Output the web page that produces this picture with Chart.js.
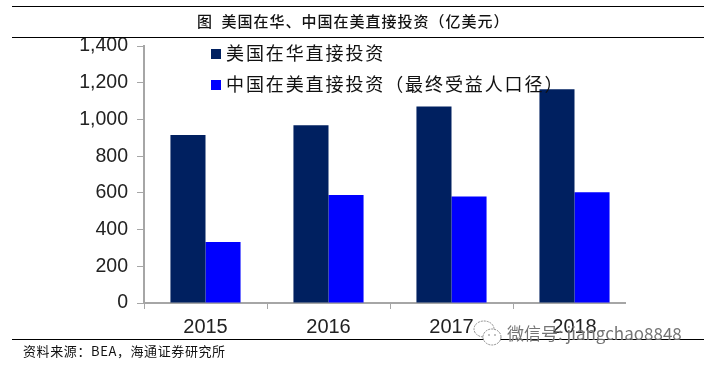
<!DOCTYPE html>
<html>
<head>
<meta charset="utf-8">
<script src="https://cdn.jsdelivr.net/npm/chart.js@4"></script>
<style>
  html, body { margin: 0; padding: 0; background: #fff; }
  #wrap { position: relative; width: 704px; height: 367px; overflow: hidden; font-family: "Noto Sans CJK SC", sans-serif; color: #111; }
  #chart { position: absolute; left: 0; top: 0; }
  .rule { position: absolute; left: 12px; width: 692px; height: 1px; background: #000; }
  #title { position: absolute; left: 197px; top: 11px; white-space: pre; font-size: 15px; line-height: 20px; letter-spacing: 1px; font-weight: 500; }
  #source { position: absolute; left: 23px; top: 343px; font-size: 13px; line-height: 16px; letter-spacing: 0.6px; }
  #legend { position: absolute; left: 211px; top: 37px; font-size: 18px; line-height: 31px; letter-spacing: 1.9px; }
  #legend .row { white-space: nowrap; height: 31px; }
  #legend .box { display: inline-block; width: 10px; height: 10px; margin-right: 5px; vertical-align: 1px; }
  #axis-end { position: absolute; left: 626px; top: 298px; width: 16px; height: 16px; background: #fff; }
  #mark { position: absolute; left: 507px; top: 322px; font-size: 17px; line-height: 22px; color: rgba(70,70,70,0.75); white-space: nowrap; text-shadow: 0 0 1px #fff; }
  #icon { position: absolute; left: 472px; top: 318px; }
</style>
</head>
<body>
<div id="wrap">
  <canvas id="chart" width="704" height="367"></canvas>
  <div id="axis-end"></div>
  <div class="rule" style="top:6px"></div>
  <div class="rule" style="top:37px"></div>
  <div class="rule" style="top:339px"></div>
  <div id="title"></div>
  <div id="legend"></div>
  <svg id="icon" width="34" height="32" fill="#fff" stroke="#8a8a8a" stroke-width="1" stroke-dasharray="2 1">
    <ellipse cx="12" cy="11" rx="10" ry="8"></ellipse>
    <ellipse cx="20" cy="19" rx="9" ry="8"></ellipse>
    <circle cx="17" cy="17" r="0.8" fill="#777" stroke="none"></circle>
    <circle cx="23" cy="17" r="0.8" fill="#777" stroke="none"></circle>
  </svg>
  <div id="mark"></div>
  <div id="source"></div>
</div>
<script>
// values
const years = ['2015', '2016', '2017', '2018'];
const usToChina = [915, 968, 1070, 1165];
const chinaToUs = [332, 588, 580, 603];
const seriesNames = ['美国在华直接投资', '中国在美直接投资（最终受益人口径）'];
const seriesColors = ['#002060', '#0000ff'];
const yTicks = [0, 200, 400, 600, 800, 1000, 1200, 1400];
const titleText = '图\u2002美国在华、中国在美直接投资（亿美元）';
const sourceText = '资料来源：BEA，海通证券研究所';
const watermark = '微信号: jiangchao8848';

document.getElementById('title').textContent = titleText;
document.getElementById('source').textContent = sourceText;
document.getElementById('mark').textContent = watermark;

// legend sits inside the plot, over the bars
const legend = document.getElementById('legend');
seriesNames.forEach((name, i) => {
  const row = document.createElement('div');
  row.className = 'row';
  const box = document.createElement('span');
  box.className = 'box';
  box.style.background = seriesColors[i];
  row.appendChild(box);
  row.appendChild(document.createTextNode(name));
  legend.appendChild(row);
});

new Chart(document.getElementById('chart'), {
  type: 'bar',
  data: {
    labels: years,
    datasets: [
      { label: seriesNames[0], data: usToChina, backgroundColor: seriesColors[0] },
      { label: seriesNames[1], data: chinaToUs, backgroundColor: seriesColors[1] }
    ]
  },
  options: {
    responsive: false,
    animation: false,
    categoryPercentage: 0.57,
    barPercentage: 1,
    layout: { padding: { top: 46, right: 68, bottom: 0, left: 0 } },
    plugins: { legend: { display: false }, title: { display: false }, tooltip: { enabled: false } },
    scales: {
      x: {
        afterFit: (scale) => { scale.height = 64; },
        grid: { drawOnChartArea: false, color: '#a6a6a6', tickLength: 6 },
        border: { color: '#a6a6a6', width: 2 },
        ticks: { color: '#222', font: { family: 'Liberation Sans', size: 20 }, padding: 6 }
      },
      y: {
        min: 0,
        max: 1400,
        afterFit: (scale) => { scale.width = 144; },
        afterBuildTicks: (scale) => { scale.ticks = yTicks.map(v => ({ value: v })); },
        grid: { drawOnChartArea: false, color: '#a6a6a6', tickLength: 7 },
        border: { color: '#a6a6a6', width: 2 },
        ticks: {
          color: '#222',
          font: { family: 'Liberation Sans', size: 19.5 },
          padding: 9,
          callback: (v) => v.toLocaleString('en-US')
        }
      }
    }
  }
});
</script>
</body>
</html>
